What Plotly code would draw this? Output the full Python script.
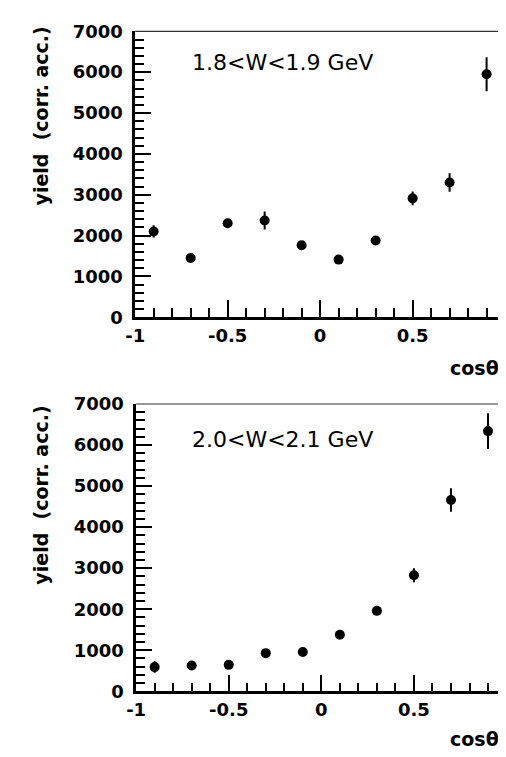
import plotly.graph_objects as go

# ---- data ----
cos_theta = [-0.9, -0.7, -0.5, -0.3, -0.1, 0.1, 0.3, 0.5, 0.7, 0.9]
yield_w18 = [2100, 1450, 2300, 2370, 1760, 1410, 1880, 2910, 3300, 5950]
err_w18 = [150, 80, 100, 220, 90, 80, 90, 170, 225, 415]
yield_w20 = [590, 630, 645, 930, 960, 1380, 1960, 2830, 4660, 6340]
err_w20 = [140, 60, 60, 70, 70, 90, 100, 170, 285, 435]

x_tickvals = [-1, -0.5, 0, 0.5, 1]
x_ticktext = ["-1", "-0.5", "0", "0.5", "1"]
y_tickvals = [0, 1000, 2000, 3000, 4000, 5000, 6000, 7000]
y_ticktext = ["0", "1000", "2000", "3000", "4000", "5000", "6000", "7000"]

panel_labels = ["1.8&lt;W&lt;1.9 GeV", "2.0&lt;W&lt;2.1 GeV"]
y_title = "yield  (corr. acc.)"
x_title = "cosθ"
x_title_sup = "*"

FONT = "DejaVu Sans"
W, H = 506, 757

fig = go.Figure()

for i, (yv, ev) in enumerate([(yield_w18, err_w18), (yield_w20, err_w20)]):
    suffix = "" if i == 0 else "2"
    fig.add_trace(go.Scatter(
        x=cos_theta, y=yv, mode="markers",
        marker=dict(color="black", size=10, symbol="circle"),
        error_y=dict(type="data", array=ev, visible=True, thickness=2, width=0, color="black"),
        xaxis="x" + suffix, yaxis="y" + suffix, showlegend=False,
    ))

TICKFONT = dict(family=FONT, size=18, color="black", weight="bold")

def xaxis(domain, anchor):
    return dict(
        domain=domain, anchor=anchor, range=[-1, 1],
        tickmode="array", tickvals=x_tickvals, ticktext=x_ticktext,
        ticks="inside", ticklen=17, tickwidth=2, tickcolor="black",
        minor=dict(ticks="inside", dtick=0.1, ticklen=9, tickwidth=2, tickcolor="black"),
        showline=True, linewidth=2.5, linecolor="black", mirror=False,
        showgrid=False, zeroline=False,
        tickfont=TICKFONT, ticklabeloverflow="allow",
        fixedrange=True,
    )

def yaxis(domain, anchor):
    return dict(
        domain=domain, anchor=anchor, range=[0, 7000],
        tickmode="array", tickvals=y_tickvals, ticktext=y_ticktext,
        ticks="inside", ticklen=16, tickwidth=2, tickcolor="black",
        minor=dict(ticks="inside", dtick=200, ticklen=9, tickwidth=1.5, tickcolor="black"),
        showline=True, linewidth=2.5, linecolor="black", mirror=True,
        showgrid=False, zeroline=False,
        tickfont=TICKFONT, ticklabeloverflow="allow",
        ticklabelstandoff=6,
        fixedrange=True,
    )

top_x = [121 / W, 503 / W]
top_y = [1 - 306.7 / H, 1 - 12.7 / H]
bot_x = [122 / W, 504.5 / W]
bot_y = [1 - 691.5 / H, 1 - 396 / H]

annotations = []
shapes = []
for i, (xd, yd, lab_y, ytitle_y, xt_y) in enumerate([
    (top_x, top_y, 45, 100, 359),
    (bot_x, bot_y, 432, 490, 741),
]):
    suffix = "" if i == 0 else "2"
    annotations.append(dict(
        text=panel_labels[i], xref="paper", yref="paper",
        x=178 / W, y=1 - lab_y / H, xanchor="left", yanchor="middle",
        showarrow=False, font=dict(family=FONT, size=22, color="black"),
    ))
    annotations.append(dict(
        text=y_title, xref="paper", yref="paper", textangle=-90,
        x=24 / W, y=1 - ytitle_y / H, xanchor="center", yanchor="middle",
        showarrow=False, font=dict(family=FONT, size=19, color="black", weight="bold"),
    ))
    annotations.append(dict(
        text=x_title, xref="paper", yref="paper",
        x=499 / W, y=1 - xt_y / H, xanchor="right", yanchor="middle",
        showarrow=False, font=dict(family=FONT, size=19, color="black", weight="bold"),
    ))
    annotations.append(dict(
        text=x_title_sup, xref="paper", yref="paper",
        x=500 / W, y=1 - (xt_y - 14) / H, xanchor="center", yanchor="middle",
        showarrow=False, font=dict(family=FONT, size=13, color="black", weight="bold"),
    ))
    shapes.append(dict(
        type="line", xref="x" + suffix + " domain", yref="y" + suffix + " domain",
        x0=0, x1=1, y0=1, y1=1, line=dict(color="#333333", width=1.2),
    ))

fig.update_layout(
    width=W, height=H,
    margin=dict(l=0, r=0, t=0, b=0),
    paper_bgcolor="white", plot_bgcolor="white",
    xaxis=xaxis(top_x, "y"), yaxis=yaxis(top_y, "x"),
    xaxis2=xaxis(bot_x, "y2"), yaxis2=yaxis(bot_y, "x2"),
    annotations=annotations, shapes=shapes,
    font=dict(family=FONT, color="black"),
)

fig.write_html("out.html")
